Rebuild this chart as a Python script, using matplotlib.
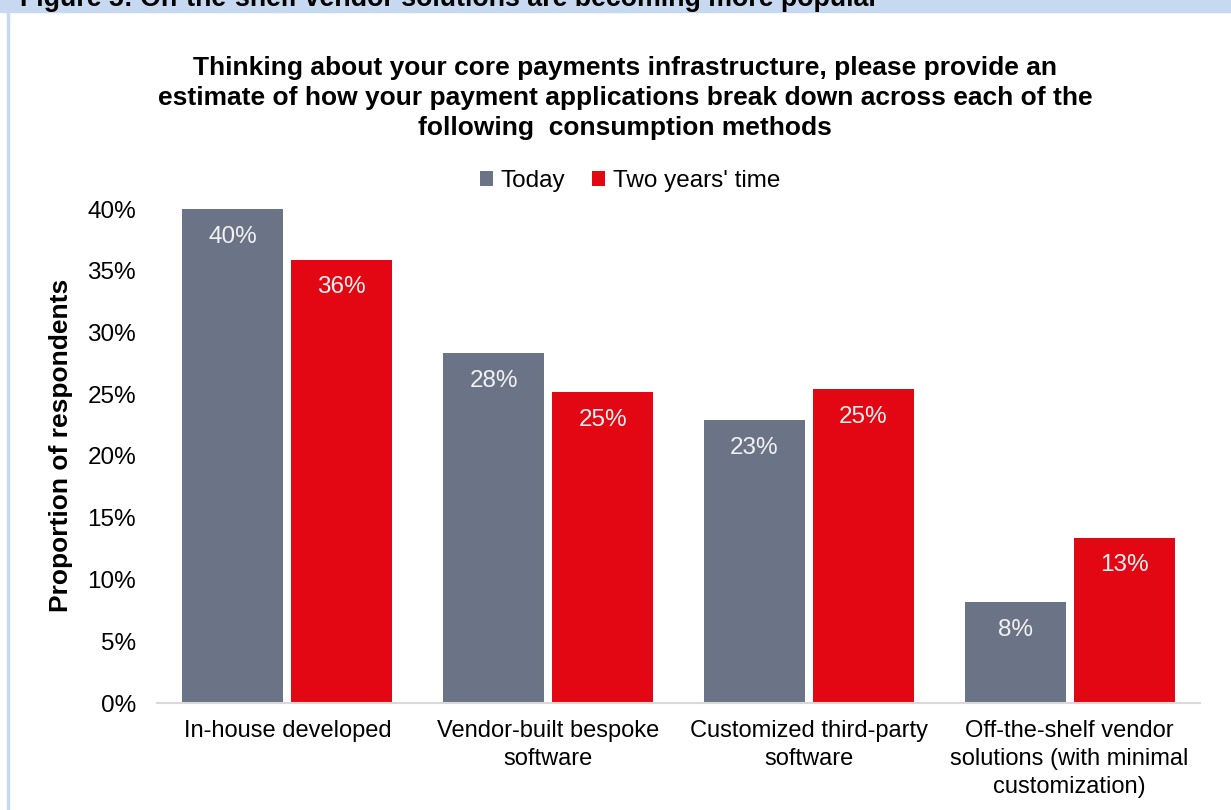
import numpy as np
import matplotlib
matplotlib.use('Agg')
import matplotlib.pyplot as plt
import matplotlib.patches as patches

plt.rcParams['font.family'] = ['Liberation Sans', 'DejaVu Sans']

# survey data (percent of respondents)
categories = ['In-house developed',
              'Vendor-built bespoke\nsoftware',
              'Customized third-party\nsoftware',
              'Off-the-shelf vendor\nsolutions (with minimal\ncustomization)']
today = [40.0, 28.3, 22.9, 8.2]
two_years = [35.9, 25.2, 25.4, 13.4]
series_names = ['Today', "Two years' time"]
yticks = [0, 5, 10, 15, 20, 25, 30, 35, 40]

col_today = '#6B7386'
col_2y = '#E30613'
W, H = 1231, 810

fig = plt.figure(figsize=(W/100, H/100), dpi=100)

# header band + left frame line
fig.patches.append(patches.Rectangle((0, 1-12/H), 1, 12/H, transform=fig.transFigure,
                                     color='#C6D9F0', zorder=0))
fig.patches.append(patches.Rectangle((7/W, 0), 2/W, 1-12/H, transform=fig.transFigure,
                                     color='#C6D9F0', zorder=0))
fig.text(20/W, 1-6/H, 'Figure 5: On-the-shelf vendor solutions are becoming more popular',
         fontsize=19.3, fontweight='bold', va='baseline', ha='left')

ax = fig.add_axes([157/W, 1-703/H, (1200-157)/W, (703-209)/H])

x = np.arange(len(categories))
bw = 0.388
off = bw/2 + 0.015
b1 = ax.bar(x - off, today, bw, color=col_today, label=series_names[0], zorder=2)
b2 = ax.bar(x + off, two_years, bw, color=col_2y, label=series_names[1], zorder=2)

for bars, vals in [(b1, today), (b2, two_years)]:
    for r, v in zip(bars, vals):
        ax.annotate(f'{v:.0f}%', (r.get_x() + r.get_width()/2, v),
                    xytext=(0, -20), textcoords='offset points',
                    ha='center', va='center', color='#F2F2F2', fontsize=17.5)

ax.set_xlim(-0.5, len(categories) - 0.5)
ax.set_ylim(0, 40)
ax.set_yticks(yticks)
ax.set_yticklabels([f'{t}%' for t in yticks], fontsize=17.5)
ax.set_xticks(x)
ax.set_xticklabels(categories, fontsize=17, linespacing=1.35)
ax.tick_params(axis='both', length=0)
ax.tick_params(axis='y', pad=15)
ax.tick_params(axis='x', pad=12)
for s in ['top', 'right', 'left']:
    ax.spines[s].set_visible(False)
ax.spines['bottom'].set_color('#D9D9D9')
ax.spines['bottom'].set_linewidth(1.5)

ax.set_ylabel('Proportion of respondents', fontsize=19, fontweight='bold')
ax.yaxis.set_label_coords(-84 / (1200-157), 0.522)

fig.text(625/W, 1-98/H,
         'Thinking about your core payments infrastructure, please provide an\n'
         'estimate of how your payment applications break down across each of the\n'
         'following  consumption methods',
         ha='center', va='center', fontsize=19, fontweight='bold', linespacing=1.29)

fig.legend(loc='center', bbox_to_anchor=(630/W, 1-181/H), ncol=2, frameon=False,
           fontsize=17.5, handlelength=0.55, handleheight=0.55, handletextpad=0.3,
           columnspacing=1.1)

fig.savefig('out.png', dpi=100)
